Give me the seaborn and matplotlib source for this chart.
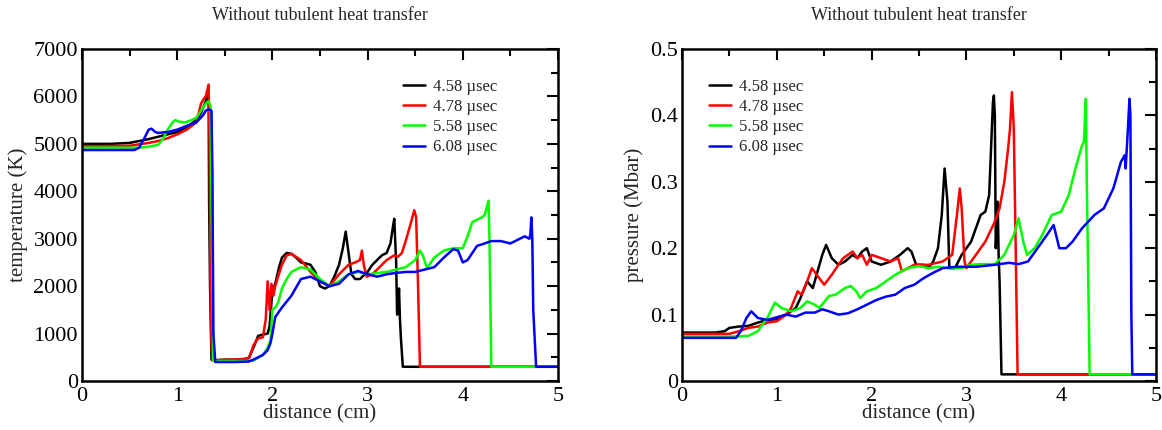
import numpy as np
import pandas as pd
import matplotlib
matplotlib.use("Agg")
import matplotlib.pyplot as plt
from matplotlib.ticker import MultipleLocator, FixedLocator, FixedFormatter
import seaborn as sns

# ---------------- data ----------------
times = ["4.58 \u00b5sec", "4.78 \u00b5sec", "5.58 \u00b5sec", "6.08 \u00b5sec"]
colors = ["#000000", "#ff0000", "#00ff00", "#0000ff"]

# temperature (K) vs distance (cm)
tx_458 = [0, 0.3, 0.5, 0.6, 0.7, 0.8, 0.9, 1.0, 1.1, 1.2, 1.25, 1.3, 1.32, 1.33, 1.335, 1.345, 1.36, 1.4, 1.5, 1.6,
          1.7, 1.75, 1.8, 1.85, 1.9, 1.95, 1.97, 2.0, 2.03, 2.07, 2.1, 2.15, 2.2, 2.25, 2.3, 2.35, 2.4, 2.45, 2.5, 2.55,
          2.6, 2.65, 2.7, 2.74, 2.77, 2.8, 2.83, 2.87, 2.92, 2.97, 3.0, 3.05, 3.1, 3.15, 3.2, 3.24, 3.27, 3.28, 3.3, 3.31,
          3.32, 3.33, 3.34, 3.35, 3.37, 3.5, 5.0]
ty_458 = [5000, 5000, 5020, 5060, 5100, 5150, 5200, 5250, 5350, 5500, 5650, 5900, 6050, 6100, 3800, 2000, 450, 440, 450, 450,
          460, 480, 700, 950, 980, 1000, 1150, 1900, 2050, 2400, 2600, 2700, 2680, 2600, 2500, 2480, 2450, 2300, 2000, 1950,
          2000, 2200, 2450, 2800, 3150, 2700, 2250, 2150, 2150, 2250, 2300, 2450, 2550, 2650, 2700, 2900, 3300, 3420, 2500, 1400,
          1500, 1950, 1300, 900, 300, 300, 300]

tx_478 = [0, 0.5, 0.6, 0.7, 0.8, 0.9, 1.0, 1.1, 1.2, 1.22, 1.25, 1.28, 1.3, 1.33, 1.34, 1.35, 1.36, 1.37, 1.45, 1.6,
          1.72, 1.76, 1.8, 1.85, 1.9, 1.93, 1.95, 1.97, 1.99, 2.01, 2.03, 2.06, 2.1, 2.15, 2.2, 2.3, 2.4, 2.5, 2.6, 2.7,
          2.8, 2.87, 2.92, 2.94, 2.96, 2.99, 3.05, 3.1, 3.2, 3.28, 3.32, 3.36, 3.4, 3.45, 3.49, 3.51, 3.53, 3.55, 5.0]
ty_478 = [4950, 4960, 4990, 5020, 5060, 5120, 5200, 5300, 5450, 5600, 5850, 5950, 6000, 6250, 5000, 2000, 800, 430, 440, 450,
          470, 500, 750, 900, 920, 1300, 2100, 1500, 2050, 1800, 2000, 2200, 2450, 2650, 2680, 2550, 2300, 2100, 2000, 2250,
          2450, 2500, 2550, 2750, 2450, 2200, 2250, 2350, 2550, 2650, 2620, 2700, 2950, 3300, 3600, 3450, 2000, 300, 300]

tx_558 = [0, 0.6, 0.7, 0.8, 0.85, 0.9, 0.95, 0.98, 1.02, 1.08, 1.15, 1.2, 1.25, 1.3, 1.33, 1.35, 1.36, 1.38, 1.5, 1.7,
          1.8, 1.9, 1.95, 1.98, 2.0, 2.03, 2.06, 2.1, 2.15, 2.2, 2.3, 2.4, 2.5, 2.6, 2.7, 2.8, 2.9, 3.0, 3.2, 3.4,
          3.5, 3.55, 3.58, 3.62, 3.65, 3.7, 3.8, 3.9, 4.0, 4.05, 4.1, 4.15, 4.2, 4.23, 4.25, 4.27, 4.28, 4.3, 5.0]
ty_558 = [4920, 4920, 4940, 4980, 5100, 5300, 5450, 5500, 5470, 5450, 5500, 5550, 5700, 5850, 5900, 5800, 3750, 420, 420, 420,
          430, 550, 700, 850, 1500, 1550, 1650, 1950, 2150, 2300, 2400, 2350, 2150, 2000, 2100, 2250, 2300, 2250, 2300, 2400,
          2550, 2750, 2650, 2400, 2450, 2600, 2750, 2800, 2800, 3050, 3350, 3400, 3450, 3500, 3650, 3800, 3000, 300, 300]

tx_608 = [0, 0.55, 0.6, 0.65, 0.7, 0.73, 0.77, 0.8, 0.9, 1.0, 1.1, 1.2, 1.27, 1.3, 1.33, 1.36, 1.37, 1.38, 1.4, 1.6,
          1.75, 1.8, 1.9, 1.95, 1.98, 2.0, 2.03, 2.1, 2.2, 2.3, 2.4, 2.5, 2.6, 2.7, 2.8, 2.9, 3.0, 3.1, 3.2, 3.3,
          3.4, 3.5, 3.6, 3.7, 3.8, 3.9, 3.95, 4.0, 4.05, 4.1, 4.15, 4.2, 4.3, 4.4, 4.5, 4.6, 4.65, 4.7, 4.71, 4.72,
          4.73, 4.74, 4.77, 5.0]
ty_608 = [4870, 4870, 4920, 5100, 5300, 5320, 5250, 5230, 5250, 5300, 5380, 5450, 5600, 5700, 5730, 5700, 4400, 1000, 400, 400,
          410, 450, 550, 650, 800, 1000, 1350, 1550, 1800, 2150, 2200, 2100, 2000, 2050, 2250, 2320, 2250, 2200, 2250, 2280,
          2300, 2300, 2350, 2400, 2600, 2780, 2750, 2500, 2550, 2700, 2850, 2880, 2950, 2950, 2900, 3000, 3050, 3000, 3100, 3450,
          3000, 1500, 300, 300]

# pressure (Mbar) vs distance (cm)
px_458 = [0, 0.35, 0.45, 0.5, 0.6, 0.7, 0.8, 0.9, 1.0, 1.1, 1.2, 1.25, 1.32, 1.38, 1.42, 1.48, 1.52, 1.58, 1.65, 1.72,
          1.8, 1.85, 1.9, 1.95, 2.0, 2.1, 2.2, 2.3, 2.38, 2.42, 2.47, 2.55, 2.6, 2.65, 2.7, 2.74, 2.77, 2.8, 2.82, 2.88,
          2.95, 3.0, 3.05, 3.1, 3.15, 3.2, 3.24, 3.26, 3.28, 3.29, 3.3, 3.31, 3.33, 3.34, 3.35, 3.37, 5.0]
py_458 = [0.073, 0.073, 0.075, 0.08, 0.082, 0.083, 0.088, 0.092, 0.093, 0.1, 0.11, 0.125, 0.15, 0.14, 0.16, 0.19, 0.205, 0.185, 0.175, 0.18,
          0.19, 0.185, 0.195, 0.2, 0.18, 0.175, 0.18, 0.19, 0.2, 0.195, 0.175, 0.175, 0.17, 0.18, 0.2, 0.25, 0.32, 0.27, 0.17, 0.17,
          0.19, 0.2, 0.21, 0.23, 0.25, 0.255, 0.28, 0.35, 0.42, 0.43, 0.40, 0.2, 0.27, 0.19, 0.15, 0.01, 0.01]

px_478 = [0, 0.5, 0.6, 0.7, 0.8, 0.9, 1.0, 1.1, 1.15, 1.22, 1.26, 1.32, 1.37, 1.42, 1.5, 1.58, 1.65, 1.7, 1.8, 1.85,
          1.9, 1.95, 2.0, 2.1, 2.2, 2.28, 2.32, 2.45, 2.6, 2.75, 2.85, 2.9, 2.93, 2.95, 2.98, 3.0, 3.05, 3.1, 3.2, 3.3,
          3.35, 3.4, 3.44, 3.46, 3.48, 3.5, 3.52, 3.54, 5.0]
py_478 = [0.071, 0.071, 0.075, 0.08, 0.082, 0.088, 0.09, 0.1, 0.11, 0.135, 0.13, 0.15, 0.17, 0.16, 0.145, 0.16, 0.175, 0.185, 0.195, 0.185,
          0.19, 0.175, 0.19, 0.185, 0.18, 0.185, 0.165, 0.175, 0.175, 0.18, 0.19, 0.25, 0.29, 0.26, 0.18, 0.17, 0.18, 0.19, 0.21, 0.24,
          0.26, 0.3, 0.35, 0.38, 0.435, 0.38, 0.2, 0.01, 0.01]

px_558 = [0, 0.6, 0.7, 0.8, 0.9, 0.98, 1.05, 1.15, 1.25, 1.32, 1.4, 1.45, 1.55, 1.62, 1.72, 1.78, 1.84, 1.88, 1.95, 2.05,
          2.15, 2.25, 2.38, 2.5, 2.6, 2.7, 2.8, 2.95, 3.05, 3.15, 3.3, 3.4, 3.5, 3.55, 3.6, 3.64, 3.72, 3.8, 3.9, 4.0,
          4.08, 4.15, 4.22, 4.24, 4.26, 4.27, 4.3, 5.0]
py_558 = [0.067, 0.067, 0.068, 0.075, 0.095, 0.118, 0.11, 0.105, 0.11, 0.12, 0.115, 0.11, 0.128, 0.13, 0.14, 0.143, 0.135, 0.125, 0.135, 0.14,
          0.15, 0.16, 0.17, 0.173, 0.17, 0.172, 0.17, 0.17, 0.175, 0.176, 0.176, 0.19, 0.22, 0.245, 0.21, 0.19, 0.2, 0.22, 0.25, 0.255,
          0.28, 0.32, 0.355, 0.36, 0.425, 0.3, 0.01, 0.01]

px_608 = [0, 0.57, 0.62, 0.68, 0.73, 0.8, 0.9, 1.0, 1.1, 1.2, 1.3, 1.4, 1.48, 1.55, 1.65, 1.75, 1.85, 1.95, 2.05, 2.15,
          2.25, 2.35, 2.45, 2.55, 2.65, 2.75, 2.9, 3.1, 3.3, 3.45, 3.55, 3.65, 3.75, 3.85, 3.92, 3.98, 4.05, 4.12, 4.22, 4.35,
          4.45, 4.55, 4.63, 4.67, 4.68, 4.7, 4.72, 4.73, 4.74, 4.75, 5.0]
py_608 = [0.065, 0.065, 0.075, 0.095, 0.105, 0.095, 0.092, 0.096, 0.1, 0.097, 0.103, 0.103, 0.108, 0.105, 0.1, 0.102, 0.108, 0.115, 0.122, 0.127,
          0.13, 0.14, 0.145, 0.155, 0.163, 0.17, 0.172, 0.172, 0.175, 0.178, 0.176, 0.18, 0.2, 0.22, 0.235, 0.2, 0.2, 0.21, 0.23, 0.25,
          0.26, 0.29, 0.33, 0.34, 0.32, 0.37, 0.425, 0.40, 0.1, 0.01, 0.01]

xticks = [0, 1, 2, 3, 4, 5]
t_yticks = [0, 1000, 2000, 3000, 4000, 5000, 6000, 7000]
p_yticks = [0, 0.1, 0.2, 0.3, 0.4, 0.5]
p_yticklabels = ["0", "0.1", "0.2", "0.3", "0.4", "0.5"]
title_text = "Without tubulent heat transfer"


def long_frame(xs, ys):
    frames = []
    for t, x, y in zip(times, xs, ys):
        assert len(x) == len(y), (t, len(x), len(y))
        frames.append(pd.DataFrame({"distance": x, "value": y, "time": t}))
    return pd.concat(frames, ignore_index=True)


df_T = long_frame([tx_458, tx_478, tx_558, tx_608], [ty_458, ty_478, ty_558, ty_608])
df_P = long_frame([px_458, px_478, px_558, px_608], [py_458, py_478, py_558, py_608])

# ---------------- style ----------------
sns.set_style("white")
plt.rcParams["font.family"] = ["Liberation Serif", "DejaVu Serif"]

fig = plt.figure(figsize=(11.62, 4.30), dpi=100)
W, H = 1162.0, 430.0
ax1 = fig.add_axes([82 / W, (H - 381) / H, 476 / W, 332 / H])
ax2 = fig.add_axes([682 / W, (H - 381) / H, 474 / W, 332 / H])

palette = dict(zip(times, colors))


def draw(ax, df, ylim, ylabel, major_y, minor_y, legend_anchor):
    sns.lineplot(data=df, x="distance", y="value", hue="time", hue_order=times,
                 palette=palette, estimator=None, sort=False,
                 linewidth=1.8, legend=False, ax=ax)
    ax.set_xlim(0, 5)
    ax.set_ylim(*ylim)
    ax.xaxis.set_major_locator(FixedLocator(xticks))
    ax.xaxis.set_minor_locator(MultipleLocator(0.5))
    ax.yaxis.set_major_locator(FixedLocator(major_y))
    ax.yaxis.set_minor_locator(MultipleLocator(minor_y))
    ax.tick_params(which="both", direction="in", top=True, right=True,
                   width=1.5, labelsize=16, colors="black")
    ax.tick_params(which="major", length=8)
    ax.tick_params(axis="x", which="major", pad=4)
    ax.tick_params(axis="y", which="major", pad=3)
    ax.tick_params(which="minor", length=5)
    for sp in ax.spines.values():
        sp.set_linewidth(1.8)
        sp.set_color("black")
        sp.set_visible(True)
    ax.set_xlabel("distance (cm)", fontsize=15, labelpad=-1)
    ax.set_ylabel(ylabel, fontsize=15, labelpad=4)
    ax.set_title(title_text, fontsize=13, pad=21)
    leg = ax.legend(ax.lines[:4], times, loc="upper left",
                    bbox_to_anchor=legend_anchor, frameon=False,
                    fontsize=12, handlelength=1.3, handletextpad=0.5,
                    labelspacing=0.25, borderpad=0, borderaxespad=0)
    for ln in leg.get_lines():
        ln.set_linewidth(1.8)
    ax.grid(False)


draw(ax1, df_T, (0, 7000), "temperature (K)", t_yticks, 500, (0.675, 0.91))
draw(ax2, df_P, (0, 0.5), "pressure (Mbar)", p_yticks, 0.05, (0.057, 0.91))
ax2.yaxis.set_major_formatter(FixedFormatter(p_yticklabels))

fig.savefig("out.png", dpi=100, facecolor="white")
